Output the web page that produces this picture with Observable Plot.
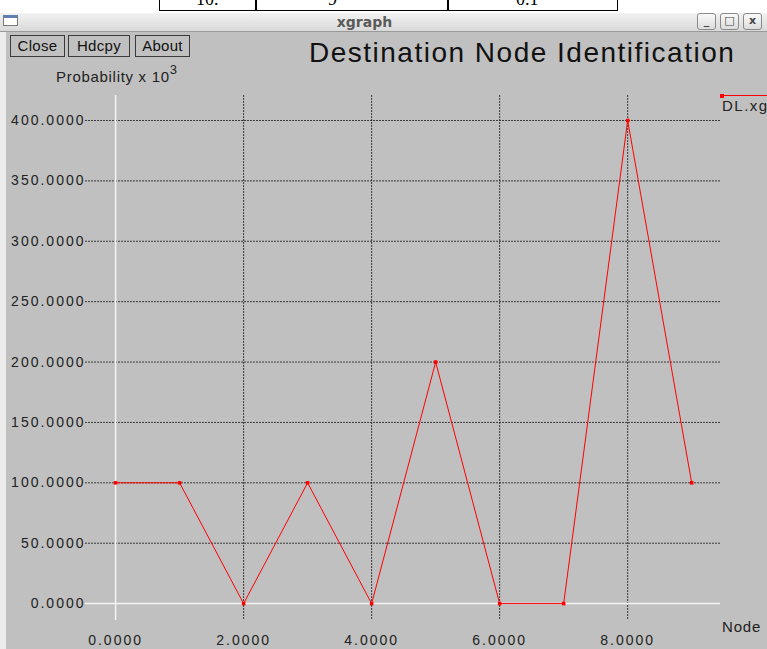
<!DOCTYPE html>
<html>
<head>
<meta charset="utf-8">
<script src="https://cdn.jsdelivr.net/npm/d3@7"></script>
<script src="https://cdn.jsdelivr.net/npm/@observablehq/plot@0.6"></script>
<style>
  html, body { margin: 0; padding: 0; background: #fff; }
  #page { position: relative; width: 767px; height: 649px; overflow: hidden; background: #fff; font-family: "Liberation Sans", Arial, sans-serif; }
  .abs { position: absolute; }
  #tbl { left: 159px; top: -8px; width: 459px; height: 19px; border: 1.5px solid #000; box-sizing: border-box; background: #fff; overflow: hidden; font-family: "Liberation Serif", serif; font-size: 18px; }
  #tbl .c { position: absolute; top: -4px; }
  #tbl .v { position: absolute; top: 0; bottom: 0; width: 1.5px; background: #000; }
  #titlebar { left: 0; top: 13px; width: 767px; height: 18px; background: linear-gradient(#f2f2f2, #d9d9d9); border-bottom: 1px solid #9a9a9a; }
  #titlebar .t { position: absolute; left: 0; width: 729px; top: 0px; text-align: center; font-family: "DejaVu Sans", sans-serif; font-weight: bold; font-size: 14px; color: #5a5a5a; line-height: 18px; }
  #wicon { left: 3px; top: 2px; width: 15px; height: 11px; border: 1px solid #7a7a7a; background: #fff; box-sizing: border-box; border-top: 3px solid #5c7fb0; }
  .wb { top: 0px; width: 19px; height: 17px; border: 1px solid #8a8a8a; border-radius: 3px; box-sizing: border-box; background: linear-gradient(#fafafa, #dcdcdc); color: #444; font-family: "DejaVu Sans", sans-serif; font-weight: bold; font-size: 11px; text-align: center; line-height: 14px; }
  #body { left: 0; top: 32px; width: 767px; height: 617px; background: #c0c0c0; }
  #lstripe { left: 0; top: 32px; width: 6px; height: 617px; background: #ececec; }
  .btn { top: 35px; height: 22px; border: 1px solid #3a3a3a; box-sizing: border-box; font-size: 15px; line-height: 20px; text-align: center; color: #111; background: #c0c0c0; letter-spacing: 0.3px; }
  #title { left: 309px; top: 37px; font-size: 28px; letter-spacing: 1.5px; color: #111; white-space: nowrap; }
  #ylab { left: 56px; top: 64px; font-size: 15px; letter-spacing: 0.7px; color: #222; white-space: nowrap; }
  #ylab sup { font-size: 13px; position: relative; top: -2px; }
  #node { left: 722px; top: 618px; font-size: 15px; letter-spacing: 0.8px; color: #222; }
  #dl { left: 722px; top: 97px; font-size: 15px; letter-spacing: 1.5px; color: #222; white-space: nowrap; }
  #legline { left: 721px; top: 95px; width: 50px; height: 1.2px; background: #ff0000; }
  #legdot { left: 719.5px; top: 94px; width: 4px; height: 4px; background: #ff0000; }
  #chart { left: 0; top: 0; }
  #chart svg text { letter-spacing: 2px; }
</style>
</head>
<body>
<div id="page">
  <div id="tbl" class="abs">
    <div class="c" style="left:36px;">10.</div>
    <div class="v" style="left:95px;"></div>
    <div class="c" style="left:168px;">9</div>
    <div class="v" style="left:287px;"></div>
    <div class="c" style="left:356px;">0.1</div>
  </div>
  <div id="titlebar" class="abs">
    <div id="wicon" class="abs"></div>
    <div class="t">xgraph</div>
    <div class="abs wb" style="left:697px;">_</div>
    <div class="abs wb" style="left:720px;">□</div>
    <div class="abs wb" style="left:743px;">x</div>
  </div>
  <div id="body" class="abs"></div>
  <div id="lstripe" class="abs"></div>
  <div class="abs btn" style="left:10px; width:55px;">Close</div>
  <div class="abs btn" style="left:68px; width:62px;">Hdcpy</div>
  <div class="abs btn" style="left:135px; width:55px;">About</div>
  <div id="title" class="abs">Destination Node Identification</div>
  <div id="ylab" class="abs">Probability x 10<sup>3</sup></div>
  <div id="chart" class="abs"></div>
  <div id="legline" class="abs"></div>
  <div id="legdot" class="abs"></div>
  <div id="dl" class="abs">DL.xg</div>
  <div id="node" class="abs">Node</div>
</div>
<script>
const nodes = [0, 1, 2, 3, 4, 5, 6, 7, 8, 9];
const probability = [100, 100, 0, 100, 0, 200, 0, 0, 400, 100];
const xTicks = [0, 2, 4, 6, 8];
const yTicks = [0, 50, 100, 150, 200, 250, 300, 350, 400];

const data = nodes.map((n, i) => ({node: n, p: probability[i]}));
const fmt = d3.format(".4f");

const chart = Plot.plot({
  width: 767,
  height: 649,
  marginLeft: 85,
  marginRight: 47,
  marginTop: 95,
  marginBottom: 29,
  style: {background: "transparent", fontFamily: "Liberation Sans, Arial, sans-serif", fontSize: "14px", color: "#222"},
  x: {domain: [-0.47, 9.45], label: null},
  y: {domain: [-14, 420.7], label: null},
  marks: [
    Plot.ruleY(yTicks.filter(d => d !== 0), {stroke: "#222", strokeWidth: 1, strokeDasharray: "2,1", strokeOpacity: 0.85}),
    Plot.ruleX(xTicks.filter(d => d !== 0), {stroke: "#222", strokeWidth: 1, strokeDasharray: "2,1", strokeOpacity: 0.85}),
    Plot.ruleY([0], {stroke: "#f4f4f4", strokeWidth: 1.5}),
    Plot.ruleX([0], {stroke: "#f4f4f4", strokeWidth: 1.5}),
    Plot.axisX(xTicks, {tickSize: 0, tickPadding: 15, tickFormat: fmt, label: null}),
    Plot.axisY(yTicks, {tickSize: 0, tickPadding: 0, tickFormat: fmt, label: null}),
    Plot.line(data, {x: "node", y: "p", stroke: "#ff0000", strokeWidth: 1}),
    Plot.dot(data, {x: "node", y: "p", symbol: "square", r: 2, fill: "#ff0000", stroke: "none"})
  ]
});
document.getElementById("chart").appendChild(chart);
</script>
</body>
</html>
